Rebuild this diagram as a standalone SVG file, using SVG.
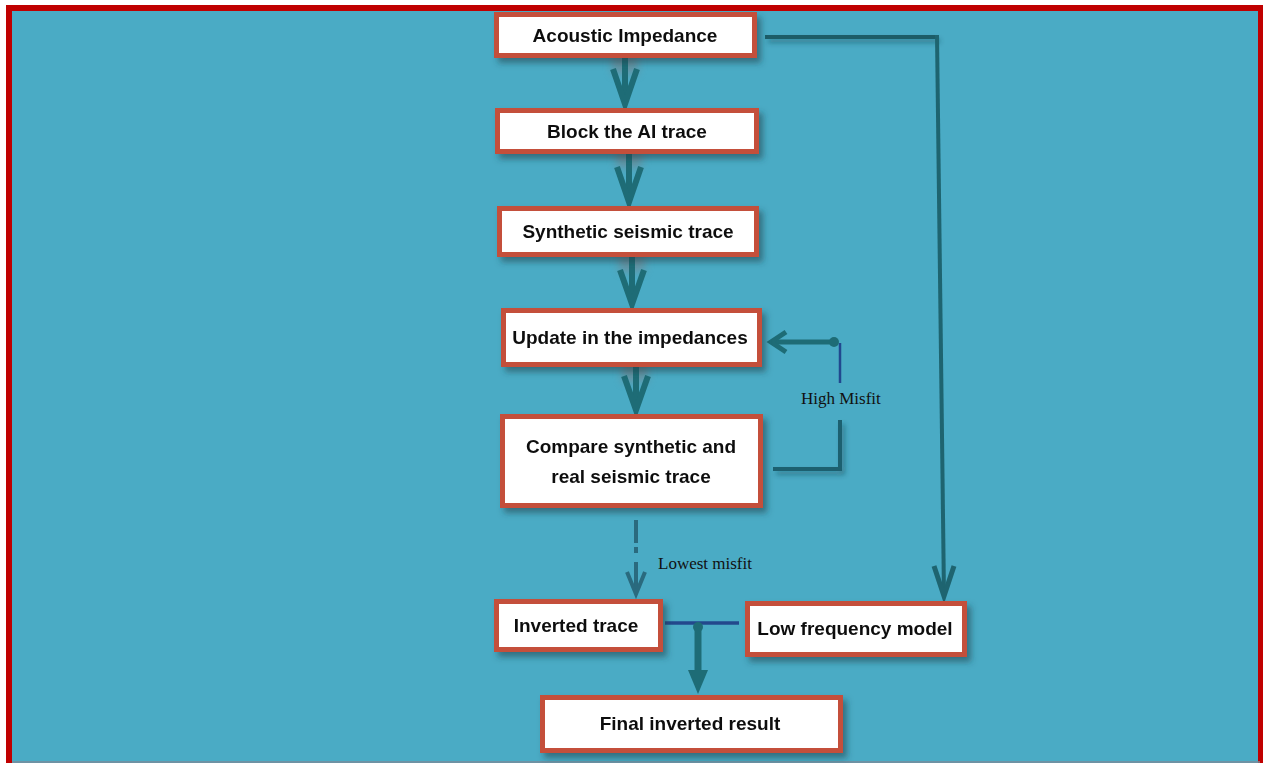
<svg xmlns="http://www.w3.org/2000/svg" width="1263" height="763" viewBox="0 0 1263 763">
<defs>
<filter id="sh" x="-10%" y="-20%" width="130%" height="160%">
<feDropShadow dx="4" dy="5" stdDeviation="3" flood-color="#1d3f4a" flood-opacity="0.55"/>
</filter>
<filter id="bl" x="-50%" y="-50%" width="200%" height="200%">
<feGaussianBlur stdDeviation="4"/>
</filter>
<filter id="lsh" filterUnits="userSpaceOnUse" x="0" y="0" width="1263" height="763">
<feDropShadow dx="3" dy="4" stdDeviation="2.5" flood-color="#1d3f4a" flood-opacity="0.45"/>
</filter>
<style>
.box{fill:#ffffff;stroke:#c4503a;stroke-width:5}
.t{font-family:"Liberation Sans",Arial,sans-serif;font-weight:bold;font-size:19px;fill:#111111;text-anchor:middle}
.lab{font-family:"Liberation Serif","Times New Roman",serif;font-size:17px;fill:#111111}
.ar{stroke:#1e6c76;stroke-width:6;fill:none;stroke-linecap:butt}
.hd{stroke:#1e6c76;stroke-width:6;fill:none;stroke-linejoin:miter}
.ghost{fill:#7a7f86;opacity:0.55;filter:url(#bl)}
</style>
</defs>
<rect x="0" y="0" width="1263" height="763" fill="#ffffff"/>
<rect x="9" y="8" width="1252" height="760" fill="#4aabc5" stroke="#c00000" stroke-width="6"/>
<line x1="12" y1="762" x2="1260" y2="762" stroke="#7b8a99" stroke-width="1.5"/>

<g id="connectors">
  <rect class="ghost" x="612" y="44" width="26" height="30"/>
  <line class="ar" x1="625" y1="57" x2="625" y2="104"/>
  <polyline class="hd" points="613,69 625,104 637,69"/>

  <rect class="ghost" x="616" y="138" width="26" height="30"/>
  <line class="ar" x1="629" y1="153" x2="629" y2="202"/>
  <polyline class="hd" points="617,167 629,202 641,167"/>

  <rect class="ghost" x="619" y="242" width="26" height="30"/>
  <line class="ar" x1="632" y1="257" x2="632" y2="304"/>
  <polyline class="hd" points="620,270 632,304 644,270"/>

  <rect class="ghost" x="622" y="352" width="26" height="30"/>
  <line class="ar" x1="636" y1="367" x2="636" y2="410"/>
  <polyline class="hd" points="624,376 636,410 648,376"/>

  <g stroke="#2a6a7e" stroke-width="4" fill="none">
    <line x1="636" y1="520" x2="636" y2="543"/>
    <line x1="636" y1="547" x2="636" y2="553"/>
    <line x1="636" y1="562" x2="636" y2="593"/>
    <polyline points="627,572 636,594 645,572"/>
  </g>

  <polyline points="773,469 840,469 840,420" fill="none" stroke="#1e6070" stroke-width="4" filter="url(#lsh)"/>
  <line x1="840" y1="343" x2="840" y2="383" stroke="#21488f" stroke-width="2.5"/>
  <line x1="834" y1="342" x2="772" y2="342" stroke="#1e6c76" stroke-width="5"/>
  <polyline points="786,332 771,342 786,352" fill="none" stroke="#1e6c76" stroke-width="5"/>
  <circle cx="834" cy="342" r="5" fill="#1e6c76"/>

  <line x1="765" y1="37" x2="937" y2="37" stroke="#1d5d68" stroke-width="4" filter="url(#lsh)"/>
  <line x1="937" y1="35" x2="944" y2="596" stroke="#1e6470" stroke-width="4"/>
  <polyline points="934,566 944,596 954,566" fill="none" stroke="#1e6470" stroke-width="5"/>

  <line x1="665" y1="623" x2="739" y2="623" stroke="#23488c" stroke-width="3.5"/>
  <circle cx="698" cy="627" r="5" fill="#1e6c76"/>
  <line x1="698" y1="627" x2="698" y2="675" stroke="#1e6c76" stroke-width="7"/>
  <polygon points="688,670 708,670 698,694" fill="#1e6c76"/>
</g>

<g id="n1" filter="url(#sh)"><rect class="box" x="496.5" y="14.5" width="258" height="41"/><text class="t" x="625" y="42">Acoustic Impedance</text></g>
<g id="n2" filter="url(#sh)"><rect class="box" x="497.5" y="110.5" width="259" height="41"/><text class="t" x="627" y="138">Block the AI trace</text></g>
<g id="n3" filter="url(#sh)"><rect class="box" x="499.5" y="208.5" width="257" height="46"/><text class="t" x="628" y="238">Synthetic seismic trace</text></g>
<g id="n4" filter="url(#sh)"><rect class="box" x="503.5" y="310.5" width="256" height="54"/><text class="t" x="630" y="344">Update in the impedances</text></g>
<g id="n5" filter="url(#sh)"><rect class="box" x="502.5" y="416.5" width="258" height="89"/><text class="t" x="631" y="453">Compare synthetic and</text><text class="t" x="631" y="483">real seismic trace</text></g>
<g id="n6" filter="url(#sh)"><rect class="box" x="496.5" y="601.5" width="164" height="48"/><text class="t" x="576" y="632">Inverted trace</text></g>
<g id="n7" filter="url(#sh)"><rect class="box" x="747.5" y="603.5" width="217" height="51"/><text class="t" x="855" y="635">Low frequency model</text></g>
<g id="n8" filter="url(#sh)"><rect class="box" x="542.5" y="697.5" width="298" height="53"/><text class="t" x="690" y="730">Final inverted result</text></g>

<text class="lab" x="801" y="404">High Misfit</text>
<text class="lab" x="658" y="569">Lowest misfit</text>
</svg>
